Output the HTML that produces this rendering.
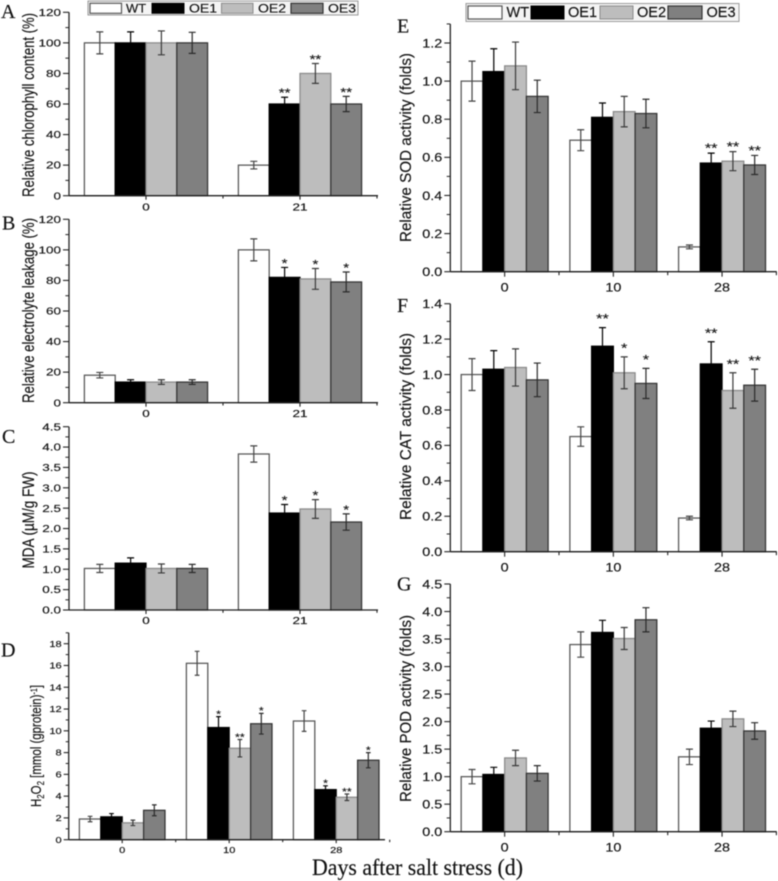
<!DOCTYPE html>
<html lang="en">
<head>
<meta charset="utf-8">
<title>Physiological responses after salt stress</title>
<style>
html,body{margin:0;padding:0;background:#fff;width:778px;height:881px;overflow:hidden}
svg{display:block;filter:blur(0.4px)}
text{font-family:"Liberation Sans",Arial,sans-serif;fill:#111;stroke:#111;stroke-width:0.15px}
.serif{font-family:"Liberation Serif","Times New Roman",serif;fill:#111}
</style>
</head>
<body>
<svg id="figure" xmlns="http://www.w3.org/2000/svg" width="778" height="881" viewBox="0 0 778 881">
  <rect x="0" y="0" width="778" height="881" fill="#fff"/>

  <g>
    <rect x="88" y="1" width="270" height="14" fill="#f4f4f4" stroke="#9a9a9a" stroke-width="1"/>
    <rect x="90" y="3.3" width="31.5" height="10" fill="#fff" stroke="#555" stroke-width="1.2"/>
    <text transform="translate(126,12.3) scale(1.08,1)" font-size="12">WT</text>
    <rect x="152" y="3.3" width="32" height="10" fill="#000" stroke="#000" stroke-width="1"/>
    <text transform="translate(189,12.3) scale(1.17,1)" font-size="12">OE1</text>
    <rect x="221.5" y="3.3" width="31.5" height="10" fill="#bdbdbd" stroke="#8a8a8a" stroke-width="1"/>
    <text transform="translate(258,12.3) scale(1.17,1)" font-size="12">OE2</text>
    <rect x="291" y="3.3" width="32" height="10" fill="#808080" stroke="#333" stroke-width="1.2"/>
    <text transform="translate(328,12.3) scale(1.17,1)" font-size="12">OE3</text>
  </g>

  <g>
    <rect x="466" y="3.5" width="273" height="18" fill="#f4f4f4" stroke="#9a9a9a" stroke-width="1"/>
    <rect x="468" y="6" width="34" height="13" fill="#fff" stroke="#555" stroke-width="1.2"/>
    <text transform="translate(506.5,17) scale(0.97,1)" font-size="15">WT</text>
    <rect x="531" y="6" width="33" height="13" fill="#000" stroke="#000" stroke-width="1"/>
    <text transform="translate(568,17) scale(0.97,1)" font-size="15">OE1</text>
    <rect x="600" y="6" width="33" height="13" fill="#bdbdbd" stroke="#8a8a8a" stroke-width="1"/>
    <text transform="translate(637,17) scale(0.97,1)" font-size="15">OE2</text>
    <rect x="668" y="6" width="34" height="13" fill="#808080" stroke="#333" stroke-width="1.2"/>
    <text transform="translate(706.5,17) scale(0.97,1)" font-size="15">OE3</text>
  </g>

  <text class="serif" x="1" y="18" font-size="20">A</text>
  <text class="serif" x="2" y="229.5" font-size="20">B</text>
  <text class="serif" x="2" y="443" font-size="20">C</text>
  <text class="serif" x="1" y="656.5" font-size="20">D</text>
  <text class="serif" x="397" y="32.5" font-size="20">E</text>
  <text class="serif" x="397" y="312" font-size="20">F</text>
  <text class="serif" x="397" y="590.5" font-size="20">G</text>

  <text transform="translate(34,105) rotate(-90)" text-anchor="middle" font-size="17" textLength="184" lengthAdjust="spacingAndGlyphs">Relative chlorophyll content (%)</text>
  <text transform="translate(34,310.5) rotate(-90)" text-anchor="middle" font-size="17" textLength="185" lengthAdjust="spacingAndGlyphs">Relative electrolyte leakage (%)</text>
  <text transform="translate(34,520) rotate(-90)" text-anchor="middle" font-size="17" textLength="97" lengthAdjust="spacingAndGlyphs">MDA (µM/g FW)</text>
  <text transform="translate(41,807) rotate(-90)" font-size="14.5" textLength="122" lengthAdjust="spacingAndGlyphs">H<tspan font-size="10" dy="3">2</tspan><tspan dy="-3">O</tspan><tspan font-size="10" dy="3">2</tspan><tspan dy="-3"> [mmol (gprotein)</tspan><tspan font-size="9" dy="-4">-1</tspan><tspan dy="4">]</tspan></text>
  <text transform="translate(411,147.5) rotate(-90)" text-anchor="middle" font-size="16" textLength="189" lengthAdjust="spacingAndGlyphs">Relative SOD activity (folds)</text>
  <text transform="translate(411,426.5) rotate(-90)" text-anchor="middle" font-size="16" textLength="187" lengthAdjust="spacingAndGlyphs">Relative CAT activity (folds)</text>
  <text transform="translate(411,708.5) rotate(-90)" text-anchor="middle" font-size="16" textLength="187" lengthAdjust="spacingAndGlyphs">Relative POD activity (folds)</text>

  <text class="serif" x="312" y="875" font-size="23" textLength="211" lengthAdjust="spacingAndGlyphs">Days after salt stress (d)</text>
</svg>

<script>
// Panel A: relative chlorophyll content
const aCategories = ['0', '21'];
const aTickLabels = ['0', '20', '40', '60', '80', '100', '120'];
const aWT = [100, 20];
const aOE1 = [100, 60];
const aOE2 = [100, 80];
const aOE3 = [100, 60];
const aErrWT = [7.2, 2.5];
const aErrOE1 = [7.2, 4.4];
const aErrOE2 = [7.8, 6.5];
const aErrOE3 = [6.9, 5];
const aSigOE1 = ['', '**'];
const aSigOE2 = ['', '**'];
const aSigOE3 = ['', '**'];

// Panel B: relative electrolyte leakage
const bCategories = ['0', '21'];
const bTickLabels = ['0', '20', '40', '60', '80', '100', '120'];
const bWT = [18, 100];
const bOE1 = [13.5, 82];
const bOE2 = [13.5, 81];
const bOE3 = [13.5, 79];
const bErrWT = [1.8, 7.2];
const bErrOE1 = [1.5, 6.5];
const bErrOE2 = [1.5, 6.8];
const bErrOE3 = [1.5, 6.5];
const bSigOE1 = ['', '*'];
const bSigOE2 = ['', '*'];
const bSigOE3 = ['', '*'];

// Panel C: MDA
const cCategories = ['0', '21'];
const cTickLabels = ['0.0', '0.5', '1.0', '1.5', '2.0', '2.5', '3.0', '3.5', '4.0', '4.5'];
const cWT = [1.02, 3.83];
const cOE1 = [1.15, 2.38];
const cOE2 = [1.02, 2.48];
const cOE3 = [1.02, 2.16];
const cErrWT = [0.1, 0.2];
const cErrOE1 = [0.13, 0.21];
const cErrOE2 = [0.11, 0.23];
const cErrOE3 = [0.1, 0.2];
const cSigOE1 = ['', '*'];
const cSigOE2 = ['', '*'];
const cSigOE3 = ['', '*'];

// Panel D: H2O2
const dCategories = ['0', '10', '28'];
const dTickLabels = ['0', '2', '4', '6', '8', '10', '12', '14', '16', '18'];
const dWT = [1.9, 16.2, 10.9];
const dOE1 = [2.1, 10.3, 4.6];
const dOE2 = [1.55, 8.4, 3.9];
const dOE3 = [2.7, 10.65, 7.3];
const dErrWT = [0.25, 1.1, 0.95];
const dErrOE1 = [0.3, 1.0, 0.35];
const dErrOE2 = [0.25, 0.8, 0.3];
const dErrOE3 = [0.5, 0.95, 0.7];
const dSigOE1 = ['', '*', '*'];
const dSigOE2 = ['', '**', '**'];
const dSigOE3 = ['', '*', '*'];

// Panel E: SOD
const eCategories = ['0', '10', '28'];
const eTickLabels = ['0.0', '0.2', '0.4', '0.6', '0.8', '1.0', '1.2'];
const eWT = [1.0, 0.69, 0.13];
const eOE1 = [1.05, 0.81, 0.57];
const eOE2 = [1.08, 0.84, 0.58];
const eOE3 = [0.92, 0.83, 0.56];
const eErrWT = [0.105, 0.055, 0.01];
const eErrOE1 = [0.12, 0.075, 0.052];
const eErrOE2 = [0.125, 0.08, 0.05];
const eErrOE3 = [0.085, 0.075, 0.05];
const eSigOE1 = ['', '', '**'];
const eSigOE2 = ['', '', '**'];
const eSigOE3 = ['', '', '**'];

// Panel F: CAT
const fCategories = ['0', '10', '28'];
const fTickLabels = ['0.0', '0.2', '0.4', '0.6', '0.8', '1.0', '1.2', '1.4'];
const fWT = [1.0, 0.65, 0.19];
const fOE1 = [1.03, 1.16, 1.06];
const fOE2 = [1.04, 1.01, 0.91];
const fOE3 = [0.97, 0.95, 0.94];
const fErrWT = [0.09, 0.055, 0.01];
const fErrOE1 = [0.105, 0.105, 0.125];
const fErrOE2 = [0.105, 0.09, 0.1];
const fErrOE3 = [0.095, 0.085, 0.09];
const fSigOE1 = ['', '**', '**'];
const fSigOE2 = ['', '*', '**'];
const fSigOE3 = ['', '*', '**'];

// Panel G: POD
const gCategories = ['0', '10', '28'];
const gTickLabels = ['0.0', '0.5', '1.0', '1.5', '2.0', '2.5', '3.0', '3.5', '4.0', '4.5'];
const gWT = [1.0, 3.4, 1.36];
const gOE1 = [1.04, 3.62, 1.88];
const gOE2 = [1.34, 3.51, 2.05];
const gOE3 = [1.06, 3.85, 1.83];
const gErrWT = [0.13, 0.23, 0.14];
const gErrOE1 = [0.13, 0.22, 0.13];
const gErrOE2 = [0.14, 0.2, 0.14];
const gErrOE3 = [0.14, 0.22, 0.15];
const gSigOE1 = ['', '', ''];
const gSigOE2 = ['', '', ''];
const gSigOE3 = ['', '', ''];

const SVG_NS = 'http://www.w3.org/2000/svg';
const svgRoot = document.getElementById('figure');
const seriesFill = ['#ffffff', '#000000', '#bdbdbd', '#808080'];
const seriesStroke = ['#555555', '#000000', '#8a8a8a', '#333333'];
const seriesErr = ['#444444', '#000000', '#3a3a3a', '#2a2a2a'];
const seriesKeys = ['wt', 'oe1', 'oe2', 'oe3'];

function make(tag, attrs, parent) {
  const el = document.createElementNS(SVG_NS, tag);
  Object.keys(attrs).forEach(function (k) { el.setAttribute(k, attrs[k]); });
  parent.appendChild(el);
  return el;
}

function drawPanel(p) {
  const group = make('g', {}, svgRoot);
  
  

  const yScale = function (v) { return p.y0 - (v / p.yMax) * (p.y0 - p.yMaxPx); };
  const band = p.band;
  const xCenter = function (i) { return p.x0 + band * (i + 0.5); };
  const barW = band * 0.2;

  p.values.forEach(function (vals, s) {
    vals.forEach(function (v, c) {
      const bar = make('rect', {
        x: xCenter(c) + (s - 2) * barW,
        y: yScale(v),
        width: barW,
        height: p.y0 - yScale(v),
        fill: seriesFill[s],
        stroke: seriesStroke[s],
        'stroke-width': 1.25
      }, group);
      
      
    });
  });

  p.values.forEach(function (vals, s) {
    vals.forEach(function (v, c) {
      const cx = xCenter(c) + (s - 1.5) * barW;
      const top = yScale(v + p.errors[s][c]);
      const bot = yScale(v - p.errors[s][c]);
      const cap = p.capW / 2;
      const whisker = make('path', {
        d: 'M' + cx + ' ' + top + 'V' + bot + 'M' + (cx - cap) + ' ' + top + 'H' + (cx + cap) + 'M' + (cx - cap) + ' ' + bot + 'H' + (cx + cap),
        fill: 'none',
        stroke: seriesErr[s],
        'stroke-width': 1.2
      }, group);
      
      

      const sig = s > 0 ? p.sig[s - 1][c] : '';
      if (sig) {
        const star = make('text', {
          transform: 'translate(' + cx + ',' + (top - p.starGap + 0.58 * p.starSize) + ') scale(1.25,1)',
          'text-anchor': 'middle',
          'font-size': p.starSize
        }, group);
        star.textContent = sig;
        
        
      }
    });
  });

  const axisTop = yScale(p.yAxisTop);
  const yAxis = make('path', {
    d: 'M' + p.x0 + ' ' + p.y0 + 'V' + axisTop,
    fill: 'none', stroke: '#222', 'stroke-width': 1.3
  }, group);
  
  

  const xAxis = make('path', {
    d: 'M' + p.x0 + ' ' + p.y0 + 'H' + p.x1,
    fill: 'none', stroke: '#222', 'stroke-width': 1.3
  }, group);
  
  

  p.tickLabels.forEach(function (label, i) {
    const v = parseFloat(label);
    const y = yScale(v);
    const tick = make('path', {
      d: 'M' + p.x0 + ' ' + y + 'H' + (p.x0 - p.tickLen),
      stroke: '#222', 'stroke-width': 1.1
    }, group);
    
    

    const txt = make('text', {
      transform: 'translate(' + (p.x0 - p.tickLen - 2) + ',' + (y + p.tickSize * 0.36) + ') scale(' + p.tickScale + ',1)',
      'text-anchor': 'end',
      'font-size': p.tickSize
    }, group);
    txt.textContent = label;
    
    

    const next = i + 1 < p.tickLabels.length ? parseFloat(p.tickLabels[i + 1]) : null;
    const step = parseFloat(p.tickLabels[1]) - parseFloat(p.tickLabels[0]);
    const minorV = next !== null ? (v + next) / 2 : v + step / 2;
    if (minorV <= p.yAxisTop) {
      const minor = make('path', {
        d: 'M' + p.x0 + ' ' + yScale(minorV) + 'H' + (p.x0 - p.tickLen * 0.6),
        stroke: '#222', 'stroke-width': 1
      }, group);
      
      
    }
  });

  p.categories.forEach(function (cat, i) {
    const tick = make('path', {
      d: 'M' + xCenter(i) + ' ' + p.y0 + 'v' + p.xTickLen,
      stroke: '#222', 'stroke-width': 1.1
    }, group);
    
    

    const bound = make('path', {
      d: 'M' + (p.x0 + band * (i + 1)) + ' ' + p.y0 + 'v' + (p.xTickLen * 0.7),
      stroke: '#222', 'stroke-width': 1.1
    }, group);
    
    

    const txt = make('text', {
      transform: 'translate(' + xCenter(i) + ',' + (p.y0 + p.xLabelGap) + ') scale(' + p.tickScale + ',1)',
      'text-anchor': 'middle',
      'font-size': p.tickSize
    }, group);
    txt.textContent = cat;
    
    
  });
}

drawPanel({ id: 'a', categories: aCategories, tickLabels: aTickLabels,
  values: [aWT, aOE1, aOE2, aOE3], errors: [aErrWT, aErrOE1, aErrOE2, aErrOE3], sig: [aSigOE1, aSigOE2, aSigOE3],
  x0: 69, x1: 378, band: 154, y0: 195.7, yMaxPx: 12.3, yMax: 120, yAxisTop: 120,
  tickLen: 6, xTickLen: 4, tickSize: 10, tickScale: 1.35, xLabelGap: 15, capW: 7, starGap: 7, starSize: 12 });

drawPanel({ id: 'b', categories: bCategories, tickLabels: bTickLabels,
  values: [bWT, bOE1, bOE2, bOE3], errors: [bErrWT, bErrOE1, bErrOE2, bErrOE3], sig: [bSigOE1, bSigOE2, bSigOE3],
  x0: 69, x1: 378, band: 154, y0: 402.7, yMaxPx: 219.3, yMax: 120, yAxisTop: 120,
  tickLen: 6, xTickLen: 4, tickSize: 10, tickScale: 1.35, xLabelGap: 14.5, capW: 7, starGap: 7, starSize: 12 });

drawPanel({ id: 'c', categories: cCategories, tickLabels: cTickLabels,
  values: [cWT, cOE1, cOE2, cOE3], errors: [cErrWT, cErrOE1, cErrOE2, cErrOE3], sig: [cSigOE1, cSigOE2, cSigOE3],
  x0: 69, x1: 378, band: 154, y0: 610, yMaxPx: 426.7, yMax: 4.5, yAxisTop: 4.5,
  tickLen: 6, xTickLen: 4, tickSize: 10, tickScale: 1.35, xLabelGap: 14, capW: 7, starGap: 7, starSize: 12 });

drawPanel({ id: 'd', categories: dCategories, tickLabels: dTickLabels,
  values: [dWT, dOE1, dOE2, dOE3], errors: [dErrWT, dErrOE1, dErrOE2, dErrOE3], sig: [dSigOE1, dSigOE2, dSigOE3],
  x0: 68.7, x1: 385, band: 107, y0: 839.7, yMaxPx: 643.7, yMax: 18, yAxisTop: 19,
  tickLen: 5, xTickLen: 3.5, tickSize: 8.5, tickScale: 1.3, xLabelGap: 13.5, capW: 4.7, starGap: 5, starSize: 10 });

drawPanel({ id: 'e', categories: eCategories, tickLabels: eTickLabels,
  values: [eWT, eOE1, eOE2, eOE3], errors: [eErrWT, eErrOE1, eErrOE2, eErrOE3], sig: [eSigOE1, eSigOE2, eSigOE3],
  x0: 450.3, x1: 776.7, band: 108.7, y0: 271.7, yMaxPx: 43, yMax: 1.2, yAxisTop: 1.3,
  tickLen: 6, xTickLen: 5, tickSize: 12, tickScale: 1.2, xLabelGap: 20, capW: 7, starGap: 8, starSize: 13 });

drawPanel({ id: 'f', categories: fCategories, tickLabels: fTickLabels,
  values: [fWT, fOE1, fOE2, fOE3], errors: [fErrWT, fErrOE1, fErrOE2, fErrOE3], sig: [fSigOE1, fSigOE2, fSigOE3],
  x0: 450.3, x1: 776.7, band: 108.7, y0: 551.7, yMaxPx: 303.7, yMax: 1.4, yAxisTop: 1.4,
  tickLen: 6, xTickLen: 5, tickSize: 12, tickScale: 1.2, xLabelGap: 20, capW: 7, starGap: 12, starSize: 13 });

drawPanel({ id: 'g', categories: gCategories, tickLabels: gTickLabels,
  values: [gWT, gOE1, gOE2, gOE3], errors: [gErrWT, gErrOE1, gErrOE2, gErrOE3], sig: [gSigOE1, gSigOE2, gSigOE3],
  x0: 450.3, x1: 776.7, band: 108.7, y0: 831.7, yMaxPx: 584, yMax: 4.5, yAxisTop: 4.5,
  tickLen: 6, xTickLen: 5, tickSize: 12, tickScale: 1.2, xLabelGap: 20, capW: 7, starGap: 8, starSize: 13 });
</script>
</body>
</html>
